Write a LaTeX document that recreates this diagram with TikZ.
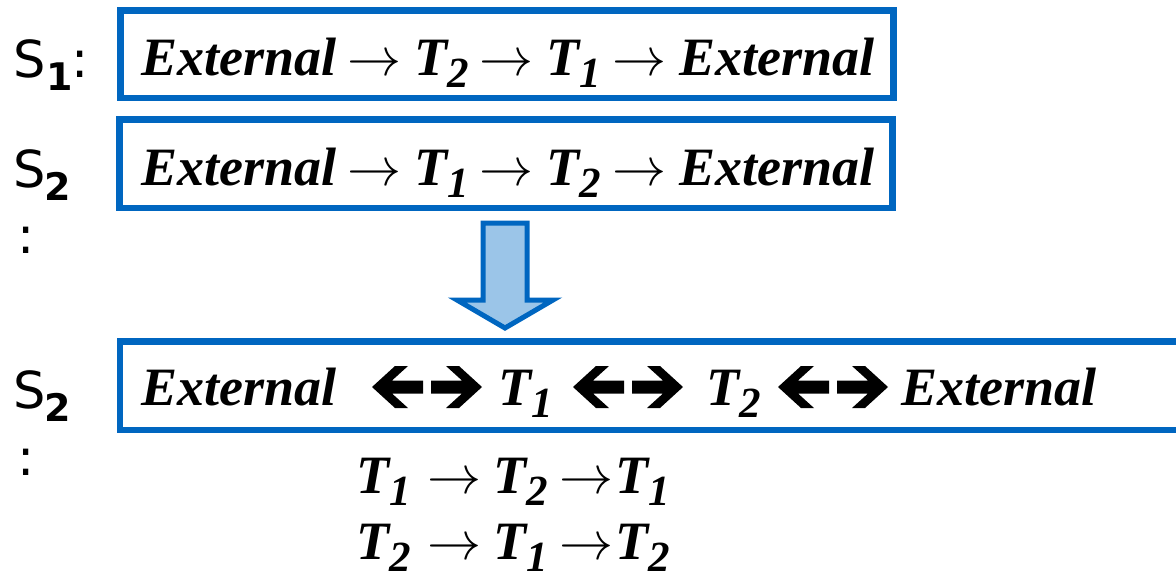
\RequirePackage{fix-cm}
\documentclass[tikz,border=0pt]{standalone}
\usepackage{fontspec}
\setmainfont{Liberation Serif}
\newfontfamily\labfont{DejaVu Sans}
\definecolor{boxblue}{RGB}{0,102,192}
\definecolor{arrfill}{RGB}{155,197,232}
\newcommand{\tsub}[1]{\raisebox{-0.24em}{\fontsize{43}{43}\selectfont #1}}
\newcommand{\rarrow}[2]{\hspace{#1pt}{\fontsize{54}{60}\selectfont$\rightarrow$}\hspace{#2pt}}
\newcommand{\rarr}{\rarrow{11}{13}}
\tikzset{
  seqbox/.style={draw=boxblue, line width=6.5pt},
  seqtext/.style={anchor=base west, inner sep=0pt, font=\fontsize{54}{60}\selectfont\bfseries\itshape},
  slabel/.style={anchor=base west, inner sep=0pt, font=\labfont\fontsize{51}{60}\selectfont},
  snum/.style={anchor=base west, inner sep=0pt, font=\labfont\fontsize{38}{40}\selectfont\bfseries},
  blockarrow/.style={fill=black, draw=none},
  bigarrow/.style={fill=arrfill, draw=boxblue, line width=5pt, line join=miter},
  dblarrow/.pic={
    \fill[blockarrow] (0,0) -- (23,21) -- (36,21) -- (20,6.5) -- (51,6.5) -- (51,-6.5) -- (20,-6.5) -- (36,-21) -- (23,-21) -- cycle;
    \fill[blockarrow] (110,0) -- (87,21) -- (74,21) -- (90,6.5) -- (59,6.5) -- (59,-6.5) -- (90,-6.5) -- (74,-21) -- (87,-21) -- cycle;
  }
}
\begin{document}
\begin{tikzpicture}[x=1pt,y=-1pt]
\useasboundingbox (0,0) rectangle (1176,574);
% labels
\node[slabel] (s1) at (13,77) {S};
\node[snum] (s1n) at (46,90) {1};
\node[slabel] (s1c) at (71,77) {:};
\node[slabel] (s2) at (13,187) {S};
\node[snum] (s2n) at (44,200) {2};
\node[slabel] (s2c) at (17,253) {:};
\node[slabel] (s3) at (13,408) {S};
\node[snum] (s3n) at (44,421) {2};
\node[slabel] (s3c) at (17,475) {:};
% boxes
\draw[seqbox] (120.5,10.5) rectangle (893.5,98) coordinate (b1);
\draw[seqbox] (119.5,119.5) rectangle (892.5,208) coordinate (b2);
\draw[seqbox] (1190,341.5) -- (120,341.5) -- (120,430) -- (1190,430);
% box texts
\node[seqtext] (t1) at (141,75) {External\rarr T\tsub{2}\rarr T\tsub{1}\rarr External};
\node[seqtext] (t2) at (141,185) {External\rarr T\tsub{1}\rarr T\tsub{2}\rarr External};
% big arrow
\draw[bigarrow] (483,223) -- (527,223) -- (527,300) -- (553,300) -- (505,328) -- (457,300) -- (483,300) -- cycle;
% box 3
\node[seqtext] (e1) at (141,405) {External};
\pic at (372,387) {dblarrow};
\node[seqtext] (x1) at (498,405) {T\tsub{1}};
\pic at (573,387) {dblarrow};
\node[seqtext] (x2) at (706,405) {T\tsub{2}};
\pic at (778,387) {dblarrow};
\node[seqtext] (e2) at (901,405) {External};
% lower lines
\node[seqtext] (l1) at (356,493) {T\tsub{1}\rarrow{17}{12}T\tsub{2}\rarrow{11}{2}T\tsub{1}};
\node[seqtext] (l2) at (356,559) {T\tsub{2}\rarrow{17}{12}T\tsub{1}\rarrow{11}{2}T\tsub{2}};
\end{tikzpicture}
\end{document}
